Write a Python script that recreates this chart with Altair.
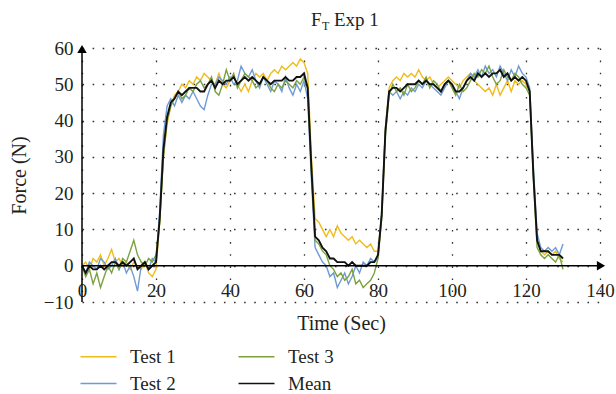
import altair as alt
import pandas as pd

time_s = list(range(131))

test1 = [
    0, 1, -1, 2, 1, 3, 0, 2, 4.5, 1,
    2, 0, 1, -1, 1, 0, -1, 1, -2, -3,
    -1, 12, 30, 39, 44, 47, 48, 50, 49, 51,
    50, 52, 51, 53, 52, 51, 50, 53, 50, 49,
    51, 52, 50, 48, 50, 48, 51, 53, 52, 53,
    51, 53, 54, 53, 55, 54, 55, 56, 55, 57,
    56, 53, 30, 13, 12, 10, 8, 10, 8, 11,
    9, 8, 7, 8, 6, 7, 6, 5, 6, 4,
    4, 14, 38, 49, 51, 52, 51, 53, 52, 53,
    52, 54, 52, 51, 52, 50, 49, 50, 51, 52,
    51, 50, 49, 51, 52, 53, 51, 50, 49, 48,
    49, 47, 50, 47, 49, 51, 48, 51, 50, 51,
    50, 48, 25, 7, 4, 3, 4, 3, 4, 2,
    1,
]

test2 = [
    0, -2, 1, 0, -1, 2, 1, -1, 0, 2,
    -1, 1, -2, 0, -3, -7, 0, 1, -1, 2,
    1, 15, 36, 44, 46, 44, 47, 45, 47, 46,
    48, 46, 44, 43, 47, 50, 50, 52, 51, 50,
    52, 50, 51, 55, 53, 52, 54, 51, 49, 52,
    50, 48, 51, 50, 48, 52, 49, 47, 50, 48,
    51, 46, 24, 5, 3, 1, 0, -3, -2, -6,
    -4, -2, -5, -3, 0, -2, 1, 0, 2, 1,
    2, 15, 38, 48, 47, 48, 46, 48, 47, 49,
    48, 50, 49, 51, 50, 49, 48, 47, 49, 51,
    50, 48, 46, 49, 51, 53, 52, 54, 52, 55,
    53, 54, 52, 55, 53, 51, 54, 52, 55, 53,
    52, 49, 27, 9, 5, 4, 5, 4, 5, 3,
    6,
]

test3 = [
    0, -3, -1, -5, -2, -6, -3, 0, -2, 1,
    -1, 2, 1, 4, 7, 3, 1, 0, 2, 1,
    3, 12, 30, 40, 44, 46, 48, 46, 47, 49,
    48, 50, 51, 49, 50, 52, 48, 47, 50, 54,
    51, 53, 49, 51, 53, 52, 51, 49, 50, 52,
    51, 49, 48, 50, 49, 51, 50, 49, 51, 50,
    52, 49, 27, 7, 6, 4, 3, 0, -1, -3,
    -2, -4, -3, -1, -5, -4, -6, -5, -4, -2,
    2, 13, 36, 47, 50, 48, 49, 47, 50, 48,
    49, 51, 50, 52, 49, 51, 50, 48, 50, 51,
    49, 47, 50, 48, 49, 51, 53, 52, 54, 53,
    55, 52, 50, 51, 54, 52, 51, 53, 52, 50,
    49, 47, 24, 5, 3, 2, 3, 2, 1, 3,
    -1,
]

mean = [
    0, -2, 0, -1, -1, 0, -1, 0, 1, 1,
    0, 1, 0, 1, 2, -1, 0, 1, -1, 0,
    1, 13, 32, 41, 45, 46, 48, 47, 48, 49,
    49, 49, 48, 48, 50, 51, 49, 51, 50, 51,
    51, 52, 50, 51, 52, 51, 52, 51, 50, 52,
    51, 50, 51, 51, 51, 52, 51, 51, 52, 52,
    53, 49, 27, 8, 7, 5, 4, 2, 2, 1,
    1, 1, 0, 1, 0, 0, 0, 0, 1, 1,
    3, 14, 37, 48, 49, 49, 48, 49, 50, 50,
    50, 51, 50, 51, 50, 50, 49, 48, 50, 51,
    50, 48, 48, 49, 51, 52, 51, 53, 52, 53,
    52, 53, 53, 54, 52, 53, 51, 52, 51, 52,
    51, 48, 25, 7, 4, 4, 4, 3, 3, 3,
    2,
]

series_names = ["Test 1", "Test 2", "Test 3", "Mean"]
series_colors = ["#F0BC1C", "#6E9BD6", "#7BA23F", "#111111"]
x_ticks = [0, 20, 40, 60, 80, 100, 120, 140]
y_ticks = [-10, 0, 10, 20, 30, 40, 50, 60]

rows = []
for name, vals in zip(series_names, [test1, test2, test3, mean]):
    assert len(vals) == len(time_s), name
    for t, v in zip(time_s, vals):
        rows.append({"time": t, "force": v, "series": name})
df = pd.DataFrame(rows)

FONT = "Liberation Serif"
TXT = "#231f20"

x_scale = alt.Scale(domain=[0, 140], nice=False, zero=False)
y_scale = alt.Scale(domain=[-10, 60], nice=False, zero=False)
color_scale = alt.Scale(domain=series_names, range=series_colors)

x_axis = alt.Axis(values=x_ticks, title="Time (Sec)", domain=False, ticks=False,
                  grid=True, gridDash=[1.6, 10.5], gridColor="#333", gridWidth=1.3,
                  labelPadding=-21, titlePadding=11, labelOverlap=False,
                  labelFlush=False)
y_axis = alt.Axis(values=y_ticks, title="Force (N)", domain=False, ticks=False,
                  grid=True, gridDash=[1.6, 8.5], gridColor="#333", gridWidth=1.3,
                  labelPadding=9, titlePadding=14, labelOverlap=False,
                  labelFlush=False)


def X(field):
    return alt.X(field, scale=x_scale, axis=x_axis)


def Y(field):
    return alt.Y(field, scale=y_scale, axis=y_axis)


color_enc = alt.Color(
    "series:N",
    scale=color_scale,
    legend=alt.Legend(title=None, orient="none", legendX=7, legendY=299,
                      columns=2, symbolType="M-3,0H3", symbolSize=144,
                      symbolStrokeWidth=1.6, labelFont=FONT, labelFontSize=19,
                      labelColor=TXT, labelOffset=22, columnPadding=59,
                      rowPadding=7),
)

tests = alt.Chart(df).transform_filter(
    alt.datum.series != "Mean"
).mark_line(strokeWidth=1.4, interpolate="linear").encode(
    x=X("time:Q"), y=Y("force:Q"), color=color_enc, detail="series:N"
)

mean_line = alt.Chart(df).transform_filter(
    alt.datum.series == "Mean"
).mark_line(strokeWidth=1.9).encode(
    x=X("time:Q"), y=Y("force:Q"), color=color_enc,
)

yaxis_df = pd.DataFrame({"x": [0], "y": [-10], "y2": [60]})
xaxis_df = pd.DataFrame({"x": [0], "x2": [140], "y": [0]})

y_axis_line = alt.Chart(yaxis_df).mark_rule(color="black", strokeWidth=1.5).encode(
    x=X("x:Q"), y=Y("y:Q"), y2="y2:Q")
x_axis_line = alt.Chart(xaxis_df).mark_rule(color="black", strokeWidth=1.5).encode(
    x=X("x:Q"), x2="x2:Q", y=Y("y:Q"))

up_arrow = alt.Chart(pd.DataFrame({"x": [0], "y": [60]})).mark_point(
    shape="triangle-up", filled=True, color="black", opacity=1, size=90, yOffset=1
).encode(x=X("x:Q"), y=Y("y:Q"))
right_arrow = alt.Chart(pd.DataFrame({"x": [140], "y": [0]})).mark_point(
    shape="triangle-right", filled=True, color="black", opacity=1, size=90, xOffset=1
).encode(x=X("x:Q"), y=Y("y:Q"))

t_f = alt.Chart(pd.DataFrame({"s": ["F"]})).mark_text(
    font=FONT, fontSize=19, color=TXT, align="left", baseline="alphabetic"
).encode(text="s:N", x=alt.value(229), y=alt.value(-22))
t_sub = alt.Chart(pd.DataFrame({"s": ["T"]})).mark_text(
    font=FONT, fontSize=12, color=TXT, align="left", baseline="alphabetic"
).encode(text="s:N", x=alt.value(240), y=alt.value(-18))
t_rest = alt.Chart(pd.DataFrame({"s": ["Exp 1"]})).mark_text(
    font=FONT, fontSize=19, color=TXT, align="left", baseline="alphabetic"
).encode(text="s:N", x=alt.value(252), y=alt.value(-22))

chart = alt.layer(
    tests, mean_line, y_axis_line, x_axis_line, up_arrow, right_arrow, t_f, t_sub, t_rest
).properties(
    width=518, height=254, autosize="none",
    padding={"left": 82, "top": 48, "right": 16, "bottom": 92},
    background="white",
).configure_view(stroke=None).configure_axis(
    labelFont=FONT, labelFontSize=19, labelColor=TXT,
    titleFont=FONT, titleFontSize=20, titleFontWeight="normal", titleColor=TXT,
    labelOverlap=False, labelFlush=False,
)

chart.save("out.html", embed_options={"renderer": "svg", "actions": False})
